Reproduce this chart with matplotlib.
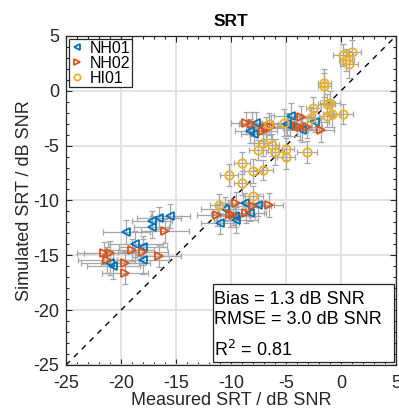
import matplotlib
matplotlib.use('Agg')
import matplotlib.pyplot as plt
from matplotlib.patches import Rectangle
from matplotlib.ticker import MultipleLocator

plt.rcParams['font.family'] = ['Liberation Sans', 'DejaVu Sans']
plt.rcParams['axes.unicode_minus'] = False

# NH01 (blue, left triangles)
nh01_x = [-15.5, -16.5, -17.2, -17.2, -19.5, -18.7, -18.0, -18.0, -21.0, -20.7,
          -8.7, -7.5, -10.5, -9.6, -8.3, -9.5, -11.0,
          -7.7, -8.3, -7.9, -4.5, -4.9, -4.6, -3.5, -2.4]
nh01_y = [-11.4, -11.6, -11.9, -12.4, -12.9, -14.0, -14.2, -15.4, -15.7, -16.0,
          -10.2, -10.4, -10.8, -11.4, -11.1, -11.8, -12.1,
          -2.9, -3.7, -3.9, -2.3, -3.0, -3.2, -3.6, -2.8]
nh01_xerr = [1.8, 2.0, 1.8, 1.6, 2.1, 2.5, 2.2, 2.4, 2.6, 2.4,
             1.6, 1.4, 2.2, 1.8, 1.5, 2.0, 1.7,
             1.5, 1.3, 1.2, 1.6, 1.4, 1.2, 1.5, 1.3]
nh01_yerr = [1.1, 1.0, 0.9, 1.0, 1.1, 1.2, 1.0, 1.3, 1.1, 1.2,
             0.9, 1.0, 1.1, 1.0, 0.8, 1.2, 1.0,
             1.0, 1.1, 0.9, 1.2, 1.0, 0.9, 1.1, 1.0]

# NH02 (orange, right triangles)
nh02_x = [-16.0, -19.0, -18.0, -21.5, -21.0, -21.3, -16.5, -19.6, -19.6,
          -9.5, -8.0, -6.5, -11.3, -10.1, -9.8, -8.6,
          -8.6, -8.1, -7.1, -6.8, -6.4, -3.6, -4.0, -3.7, -3.1, -1.8]
nh02_y = [-12.8, -14.5, -14.7, -14.8, -14.8, -15.4, -15.1, -15.7, -16.6,
          -10.2, -10.5, -10.4, -11.3, -11.2, -11.3, -11.1,
          -2.9, -3.0, -3.7, -3.4, -3.3, -2.4, -3.2, -3.3, -3.3, -3.6]
nh02_xerr = [2.2, 2.0, 2.3, 2.5, 2.4, 2.6, 2.0, 2.2, 2.1,
             1.5, 1.6, 1.2, 1.8, 1.7, 1.4, 1.6,
             1.4, 1.2, 1.3, 1.5, 1.4, 1.2, 1.3, 1.1, 1.4, 1.2]
nh02_yerr = [1.1, 1.0, 1.2, 1.0, 1.1, 1.2, 1.0, 1.1, 1.0,
             1.0, 0.9, 1.1, 1.0, 1.2, 0.9, 1.0,
             1.0, 1.1, 0.9, 1.0, 1.1, 1.0, 0.9, 1.2, 1.0, 1.1]

# HI01 (yellow, circles)
hi01_x = [-11.1, -9.0, -8.0, -6.5, -5.2, -2.5, -1.3, -1.0, -1.3, -0.8, 0.2,
          -7.1, -6.3, -7.5, -6.0, -5.0, -5.0, -3.1, -9.0, -8.0, -7.1, -10.2,
          0.2, 1.0, 0.5, 0.75, -1.5, -1.5, -2.7]
hi01_y = [-10.4, -8.4, -9.6, -3.0, -2.9, -1.6, -1.2, -1.1, -2.3, -2.1, -2.1,
          -4.8, -4.9, -5.4, -5.6, -5.3, -6.0, -5.6, -6.6, -7.3, -7.2, -7.7,
          3.3, 3.5, 2.8, 2.4, 0.7, 0.4, -2.5]
hi01_xerr = [0.8, 0.7, 0.9, 0.8, 1.0, 0.7, 0.8, 0.9, 0.7, 0.8, 0.9,
             0.8, 0.7, 0.9, 0.8, 0.7, 0.8, 0.9, 0.7, 0.8, 0.9, 0.8,
             0.9, 0.8, 0.7, 0.8, 0.6, 0.6, 0.8]
hi01_yerr = [1.0, 1.1, 0.9, 1.0, 1.2, 1.0, 0.9, 1.1, 1.0, 1.2, 0.9,
             1.1, 1.0, 0.9, 1.2, 1.0, 1.1, 1.0, 1.0, 1.1, 0.9, 1.0,
             1.0, 1.1, 1.0, 1.2, 1.3, 1.2, 1.0]

stats = ['Bias = 1.3 dB SNR', 'RMSE = 3.0 dB SNR', 'R$^2$ = 0.81']

series = [
    ('NH01', nh01_x, nh01_y, nh01_xerr, nh01_yerr, '<', '#0072BD'),
    ('NH02', nh02_x, nh02_y, nh02_xerr, nh02_yerr, '>', '#D95319'),
    ('HI01', hi01_x, hi01_y, hi01_xerr, hi01_yerr, 'o', '#EDB120'),
]

fig = plt.figure(figsize=(3.99, 4.11), dpi=100)
ax = fig.add_axes([0.1654, 0.112, 0.827, 0.8005])

ax.plot([-25, 5], [-25, 5], color='black', ls='--', lw=1, dashes=(4, 4), zorder=2)

for name, x, y, xe, ye, m, c in series:
    ax.errorbar(x, y, xerr=xe, yerr=ye, fmt='none', ecolor='#a6a6a6',
                elinewidth=0.9, capsize=2, capthick=0.9, zorder=3)

handles = []
for name, x, y, xe, ye, m, c in series:
    h, = ax.plot(x, y, ls='none', marker=m, markersize=6, markerfacecolor='none',
                 markeredgecolor=c, markeredgewidth=1.3, label=name, zorder=4)
    handles.append(h)

ax.set_xlim(-25, 5)
ax.set_ylim(-25, 5)
ax.xaxis.set_major_locator(MultipleLocator(5))
ax.yaxis.set_major_locator(MultipleLocator(5))
ax.xaxis.set_minor_locator(MultipleLocator(1))
ax.yaxis.set_minor_locator(MultipleLocator(1))
ax.grid(True, which='major', color='#e3e3e3', lw=1.4, zorder=0)
ax.set_axisbelow(True)
ax.tick_params(which='both', direction='in', top=True, right=True,
               colors='#262626', labelsize=13, labelcolor='#262626')
ax.tick_params(which='major', length=4, width=0.8)
ax.tick_params(which='minor', length=2.5, width=0.8)
ax.tick_params(axis='x', which='major', pad=7)
ax.tick_params(axis='y', which='major', pad=5)
for s in ax.spines.values():
    s.set_color('#262626')
    s.set_linewidth(0.9)

ax.set_xlabel('Measured SRT / dB SNR', fontsize=13, color='#262626', labelpad=0)
ax.set_ylabel('Simulated SRT / dB SNR', fontsize=13, color='#262626', labelpad=0)
ax.set_title('SRT', fontsize=12.5, fontweight='bold', pad=7)

leg = ax.legend(handles=handles, loc='upper left', fontsize=11.5, frameon=True,
                fancybox=False, edgecolor='#262626', framealpha=1,
                borderpad=0.1, handlelength=0.8, handletextpad=0.4,
                labelspacing=0.0, borderaxespad=0.2, markerscale=0.75)
leg.get_frame().set_linewidth(0.9)

ax.add_patch(Rectangle((0.445, 0.009), 0.549, 0.237, transform=ax.transAxes,
                       facecolor='white', edgecolor='#262626', lw=0.9, zorder=5))
for line, yy in zip(stats, [0.20, 0.137, 0.046]):
    ax.text(0.449, yy, line, transform=ax.transAxes, fontsize=13,
            va='center', ha='left', zorder=6)

fig.savefig('out.png', dpi=100)
